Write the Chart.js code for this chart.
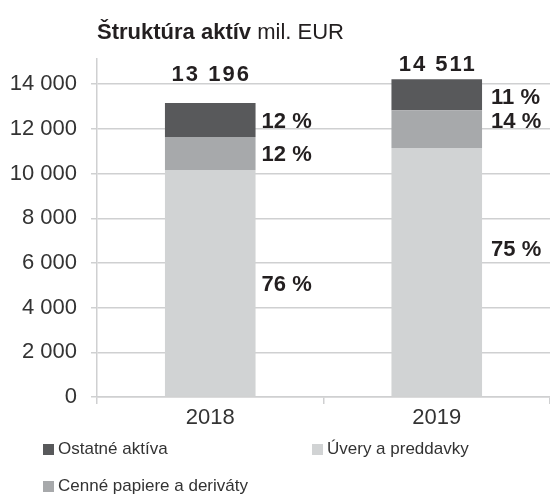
<!DOCTYPE html>
<html lang="sk">
<head>
    <meta charset="UTF-8">
    <title>Štruktúra aktív</title>
    <style>
        body {
            margin: 0;
            background: #ffffff;
            font-family: "Liberation Sans", Arial, sans-serif;
            color: #231f20;
        }
        .wrap {
            position: relative;
            width: 550px;
            height: 496px;
        }
        .title {
            position: absolute;
            left: 97px;
            top: 19px;
            font-size: 22px;
            line-height: 26px;
            white-space: nowrap;
        }
        .title b {
            font-weight: bold;
        }
        .legend {
            position: absolute;
            left: 43px;
            top: 439px;
            display: grid;
            grid-template-columns: 269px auto;
            row-gap: 17px;
            font-size: 17px;
            line-height: 20px;
            color: #333333;
        }
        .legend-item {
            display: flex;
            align-items: center;
            white-space: nowrap;
        }
        .legend-box {
            width: 11px;
            height: 11px;
            margin-right: 4px;
        }
    </style>
    <script src="https://cdn.jsdelivr.net/npm/chart.js"></script>
</head>
<body>
<div class="wrap">
    <canvas id="aktivaChart" width="550" height="496"></canvas>
    <div class="title"><b>Štruktúra aktív</b> mil. EUR</div>
    <div class="legend" id="legend"></div>
</div>

<script>
    // dáta
    const years = ['2018', '2019'];
    const uvery = [10160, 11150];      // Úvery a preddavky
    const cenne = [1480, 1685];        // Cenné papiere a deriváty
    const ostatne = [1520, 1390];      // Ostatné aktíva
    const totals = ['13 196', '14 511'];
    const shareUvery = [76, 75];
    const shareCenne = [12, 14];
    const shareOstatne = [12, 11];
    const yTicks = [0, 2000, 4000, 6000, 8000, 10000, 12000, 14000];

    const colors = {
        uvery: '#d1d3d4',
        cenne: '#a7a9ab',
        ostatne: '#58595b'
    };
    const gridColor = '#cfd0d1';
    const font = '"Liberation Sans", Arial, sans-serif';

    function fmt(v) {
        return String(v).replace(/\B(?=(\d{3})+(?!\d))/g, ' ');
    }

    // popisky nad a vedľa stĺpcov
    const labelPlugin = {
        id: 'barLabels',
        afterDatasetsDraw(chart) {
            const ctx = chart.ctx;
            const shares = [shareUvery, shareCenne, shareOstatne];
            const shareDy = [[0, 0, 0], [-24, -9, 1]];   // posun podľa predlohy
            const shareDx = [6, 9];
            const totalGap = [22, 8];
            ctx.save();
            ctx.fillStyle = '#231f20';
            ctx.font = 'bold 22px ' + font;
            ctx.textBaseline = 'alphabetic';

            years.forEach((y, j) => {
                shares.forEach((s, i) => {
                    const bar = chart.getDatasetMeta(i).data[j];
                    const mid = (bar.y + bar.base) / 2;
                    ctx.textAlign = 'left';
                    ctx.fillText(s[j] + ' %', bar.x + bar.width / 2 + shareDx[j], mid + 8 + shareDy[j][i]);
                });
                const top = chart.getDatasetMeta(2).data[j];
                ctx.textAlign = 'center';
                ctx.letterSpacing = '2px';
                ctx.fillText(totals[j], top.x + 1, top.y - totalGap[j]);
                ctx.letterSpacing = '0px';
            });
            ctx.restore();
        }
    };

    const ctx = document.getElementById('aktivaChart').getContext('2d');
    const chart = new Chart(ctx, {
        type: 'bar',
        data: {
            labels: years,
            datasets: [
                { label: 'Úvery a preddavky', data: uvery, backgroundColor: colors.uvery },
                { label: 'Cenné papiere a deriváty', data: cenne, backgroundColor: colors.cenne },
                { label: 'Ostatné aktíva', data: ostatne, backgroundColor: colors.ostatne }
            ]
        },
        options: {
            responsive: false,
            animation: false,
            layout: { padding: { top: 59, right: 0, bottom: 0, left: 0 } },
            datasets: {
                bar: { categoryPercentage: 0.4, barPercentage: 1 }
            },
            plugins: {
                legend: { display: false },
                tooltip: { enabled: false }
            },
            scales: {
                x: {
                    stacked: true,
                    afterFit(scale) { scale.height = 99; },
                    grid: {
                        drawOnChartArea: false,
                        drawTicks: true,
                        tickLength: 7,
                        color: gridColor,
                        lineWidth: 1.5
                    },
                    border: { color: gridColor, width: 1.5 },
                    ticks: {
                        padding: 1,
                        color: '#333333',
                        font: { family: font, size: 22 }
                    }
                },
                y: {
                    stacked: true,
                    min: 0,
                    max: 15130,
                    afterFit(scale) { scale.width = 97; },
                    afterBuildTicks(scale) {
                        scale.ticks = yTicks.map(v => ({ value: v }));
                    },
                    grid: {
                        color: gridColor,
                        lineWidth: 1.5,
                        tickLength: 6
                    },
                    border: { color: gridColor, width: 1.5 },
                    ticks: {
                        padding: 14,
                        color: '#333333',
                        font: { family: font, size: 22 },
                        callback: v => fmt(v)
                    }
                }
            }
        },
        plugins: [labelPlugin]
    });

    // legenda v poradí ako na predlohe
    const legendOrder = [2, 0, 1];
    const legendEl = document.getElementById('legend');
    legendOrder.forEach(i => {
        const ds = chart.data.datasets[i];
        const item = document.createElement('div');
        item.className = 'legend-item';
        item.innerHTML = `<span class="legend-box" style="background:${ds.backgroundColor}"></span>${ds.label}`;
        legendEl.appendChild(item);
    });
</script>
</body>
</html>
